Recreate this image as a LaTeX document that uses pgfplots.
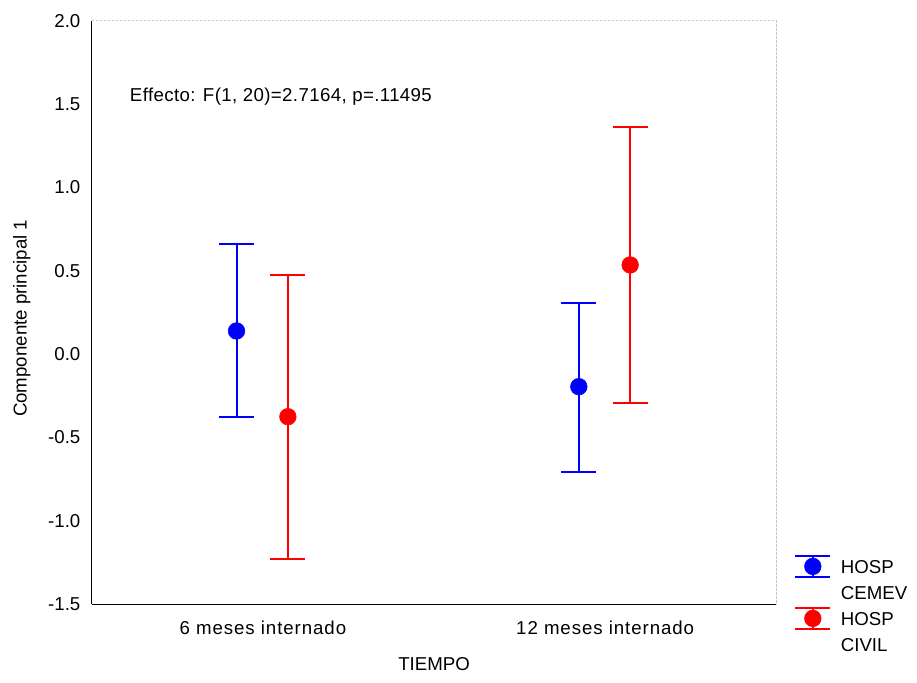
\documentclass[border=0pt]{standalone}
\usepackage{pgfplots}
\pgfplotsset{compat=1.18}
\usepackage{fontspec}
\setmainfont{Liberation Sans}
\newfontfamily\annfont[LetterSpace=2]{Liberation Sans}
\newfontfamily\catfont[LetterSpace=5]{Liberation Sans}
\begin{document}
\begin{tikzpicture}[font=\fontsize{14}{16.8}\selectfont]
\pgfplotsset{
  errleg/.style={legend image code/.code={%
    \path[draw=none,fill=none] (-13.1pt,-5pt) rectangle (13.1pt,5pt);
    \draw[overlay,line width=1.5pt] (0pt,-7.9pt) -- (0pt,7.9pt);
    \draw[overlay,line width=1.5pt] (-13.1pt,7.9pt) -- (13.1pt,7.9pt);
    \draw[overlay,line width=1.5pt] (-13.1pt,-7.9pt) -- (13.1pt,-7.9pt);
    \fill[overlay] (0pt,0pt) circle (6.25pt);
  }},
}
\begin{axis}[
  at={(68.8pt,58.3pt)}, anchor=south west,
  scale only axis, width=513.45pt, height=437.7pt,
  xmin=-0.5, xmax=1.5, ymin=-1.5, ymax=2.0,
  axis lines*=left,
  axis line style={line width=1pt, black},
  major tick length=0pt,
  xtick={0,1}, xticklabels={6 meses internado,12 meses internado},
  ytick={-1.5,-1,...,2},
  /pgf/number format/assume math mode=true,
  yticklabel style={/pgf/number format/fixed, /pgf/number format/fixed zerofill, /pgf/number format/precision=1, xshift=-5pt},
  tick label style={font=\fontsize{14}{16.8}\selectfont},
  xticklabel style={yshift=-9pt, font=\catfont\fontsize{14}{16.8}\selectfont},
  xlabel={TIEMPO}, ylabel={Componente principal 1},
  label style={font=\fontsize{14}{16.8}\selectfont},
  xlabel style={at={(axis description cs:0.5,-0.1024)}, anchor=center},
  ylabel style={at={(axis description cs:-0.102,0.49)}, anchor=center},
  legend style={at={(1.0278,0.0763)}, anchor=north west, draw=none, fill=none,
    inner sep=0pt, outer sep=0pt, row sep=9.5pt, column sep=0pt,
    font=\fontsize{14}{16.8}\selectfont,
    nodes={inner sep=0pt, outer sep=0pt, text height=10pt, text depth=0pt}},
  legend cell align=left,
  legend columns=1,
  clip=false,
]
\draw[gray!45, line width=0.6pt, dash pattern=on 2pt off 1pt] (rel axis cs:0,1) -- (rel axis cs:1,1) -- (rel axis cs:1,0);

\addplot[forget plot, blue, only marks, mark=*, mark size=6.25pt, mark options={fill=blue, draw=blue},
  error bars/.cd, y dir=both, y explicit,
  error bar style={line width=1.5pt, blue},
  error mark options={rotate=90, line width=1.5pt, mark size=13.1pt, blue}]
  table[x=x, y=y, y error plus=ep, y error minus=em] {
x y ep em
-0.077 0.139 0.522 0.518
0.923 -0.195 0.502 0.510
};
\addplot[forget plot, red, only marks, mark=*, mark size=6.25pt, mark options={fill=red, draw=red},
  error bars/.cd, y dir=both, y explicit,
  error bar style={line width=1.5pt, red},
  error mark options={rotate=90, line width=1.5pt, mark size=13.1pt, red}]
  table[x=x, y=y, y error plus=ep, y error minus=em] {
x y ep em
0.073 -0.375 0.850 0.854
1.073 0.535 0.826 0.828
};

\addlegendimage{blue, errleg}
\addlegendentry{\hspace{7.9pt}HOSP}
\addlegendimage{empty legend}
\addlegendentry{\hspace{7.9pt}CEMEV}
\addlegendimage{red, errleg}
\addlegendentry{\hspace{7.9pt}HOSP}
\addlegendimage{empty legend}
\addlegendentry{\hspace{7.9pt}CIVIL}

\node[anchor=west, inner sep=0pt, font=\annfont\fontsize{14}{16.8}\selectfont] at (axis description cs:0.0555,0.8695) {Effecto: F(1, 20)=2.7164, p=.11495};
\end{axis}
\pgfresetboundingbox
\path (0,0) rectangle (687.75pt,511.5pt);
\end{tikzpicture}
\end{document}
